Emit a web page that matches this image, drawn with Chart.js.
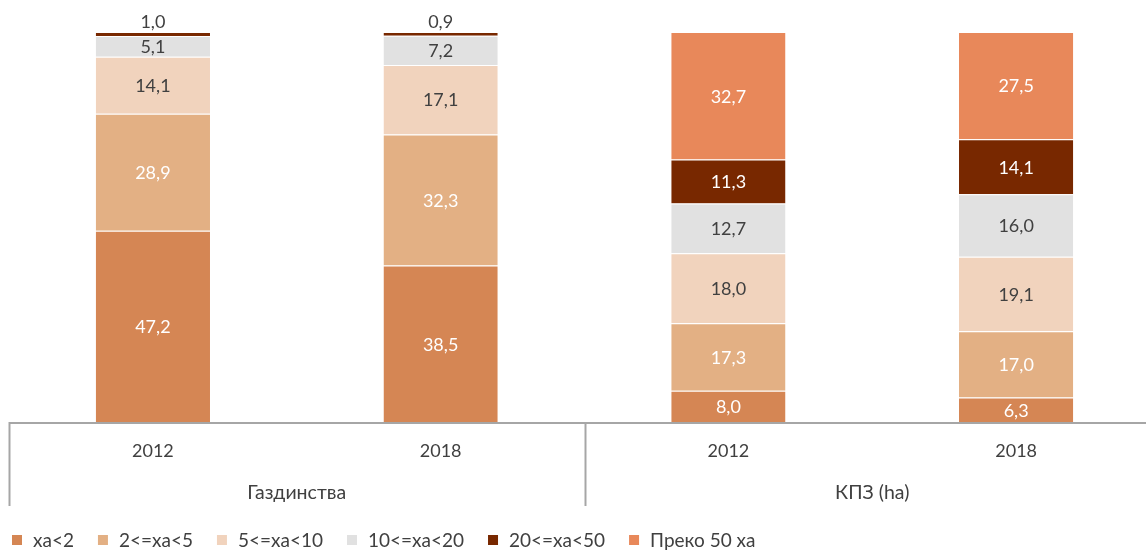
<!DOCTYPE html>
<html>
<head>
<meta charset="utf-8">
<script src="https://cdn.jsdelivr.net/npm/chart.js@4/dist/chart.umd.min.js"></script>
<style>
  html, body { margin: 0; padding: 0; background: #fff; overflow: hidden; }
  #wrap { width: 1146px; height: 550px; overflow: hidden; }
</style>
</head>
<body>
<div id="wrap"><canvas id="chart" width="1162" height="550"></canvas></div>
<script>
const categories = ['2012', '2018', '2012', '2018'];
const groups = ['Газдинства', 'КПЗ (ha)'];
const seriesNames = ['ха<2', '2<=ха<5', '5<=ха<10', '10<=ха<20', '20<=ха<50', 'Преко 50 ха'];
const xaLt2 = [47.2, 38.5, 8.0, 6.3];
const xa2to5 = [28.9, 32.3, 17.3, 17.0];
const xa5to10 = [14.1, 17.1, 18.0, 19.1];
const xa10to20 = [5.1, 7.2, 12.7, 16.0];
const xa20to50 = [1.0, 0.9, 11.3, 14.1];
const xaOver50 = [null, null, 32.7, 27.5];

const COLORS = ['#d58654', '#e3b084', '#f1d3bd', '#e1e1e1', '#782800', '#e8885a'];
const LABEL_COLORS = ['#fff', '#fff', '#404040', '#404040', '#fff', '#fff'];
const FONT = 'Lato, "Noto Sans", sans-serif';
const TEXT = '#404040';

const raw = [xaLt2, xa2to5, xa5to10, xa10to20, xa20to50, xaOver50];
// percent stacked: each column is scaled to 100
const totals = categories.map((c, i) => raw.reduce((s, arr) => s + (arr[i] || 0), 0));

const datasets = raw.map((arr, k) => ({
  label: seriesNames[k],
  data: arr.map((v, i) => v == null ? null : v / totals[i] * 100),
  rawData: arr,
  backgroundColor: COLORS[k],
  borderColor: 'rgba(255,255,255,0.85)',
  borderWidth: { top: 1 },
  borderSkipped: 'start',
  barPercentage: 1,
  categoryPercentage: 0.397
}));

const fmt = v => v.toFixed(1).replace('.', ',');

const decor = {
  id: 'decor',
  afterDatasetsDraw(chart) {
    const ctx = chart.ctx;
    ctx.save();
    ctx.font = '18px ' + FONT;
    ctx.textAlign = 'center';
    ctx.textBaseline = 'middle';
    chart.data.datasets.forEach((ds, k) => {
      const meta = chart.getDatasetMeta(k);
      meta.data.forEach((bar, i) => {
        const v = ds.rawData[i];
        if (v == null) return;
        const top = bar.y, base = bar.base;
        let y = (top + base) / 2;
        let color = LABEL_COLORS[k];
        if (base - top < 12) { y = top - 11; color = TEXT; }
        ctx.fillStyle = color;
        ctx.fillText(fmt(v), bar.x, y + 1);
      });
    });
    ctx.restore();
  },
  afterDraw(chart) {
    const ctx = chart.ctx;
    const x = chart.scales.x;
    const bottom = chart.chartArea.bottom;
    ctx.save();
    // axis line
    ctx.strokeStyle = '#a6a6a6';
    ctx.lineWidth = 2;
    ctx.beginPath();
    ctx.moveTo(x.getPixelForValue(-0.5), bottom + 1);
    ctx.lineTo(chart.width, bottom + 1);
    ctx.stroke();
    // group separators
    [-0.5, 1.5, 3.5].forEach(p => {
      const px = Math.round(x.getPixelForValue(p)) + 0.5;
      ctx.beginPath();
      ctx.moveTo(px, bottom);
      ctx.lineTo(px, bottom + 84);
      ctx.stroke();
    });
    // year labels
    ctx.fillStyle = TEXT;
    ctx.font = '18px ' + FONT;
    ctx.textAlign = 'center';
    ctx.textBaseline = 'middle';
    categories.forEach((c, i) => ctx.fillText(c, x.getPixelForValue(i), bottom + 29));
    // group labels
    ctx.font = '19.5px ' + FONT;
    groups.forEach((g, j) => ctx.fillText(g, x.getPixelForValue(j * 2 + 0.5), bottom + 71));
    // legend
    ctx.font = '19px ' + FONT;
    ctx.textAlign = 'left';
    let lx = 12;
    const ly = 540;
    seriesNames.forEach((name, k) => {
      ctx.fillStyle = COLORS[k];
      ctx.fillRect(lx, ly - 5, 10, 10);
      ctx.fillStyle = TEXT;
      ctx.fillText(name, lx + 21, ly + 1);
      lx += 21 + ctx.measureText(name).width + 24;
    });
    ctx.restore();
  }
};

new Chart(document.getElementById('chart'), {
  type: 'bar',
  data: { labels: categories, datasets },
  options: {
    responsive: false,
    animation: false,
    devicePixelRatio: 1,
    layout: { padding: { top: 32, left: 9, right: 2, bottom: 0 } },
    plugins: { legend: { display: false }, tooltip: { enabled: false } },
    scales: {
      x: {
        stacked: true,
        grid: { display: false },
        border: { display: false },
        ticks: { display: false },
        afterFit: s => { s.height = 128; }
      },
      y: {
        stacked: true,
        min: 0, max: 100,
        display: false
      }
    }
  },
  plugins: [decor]
});
</script>
</body>
</html>
